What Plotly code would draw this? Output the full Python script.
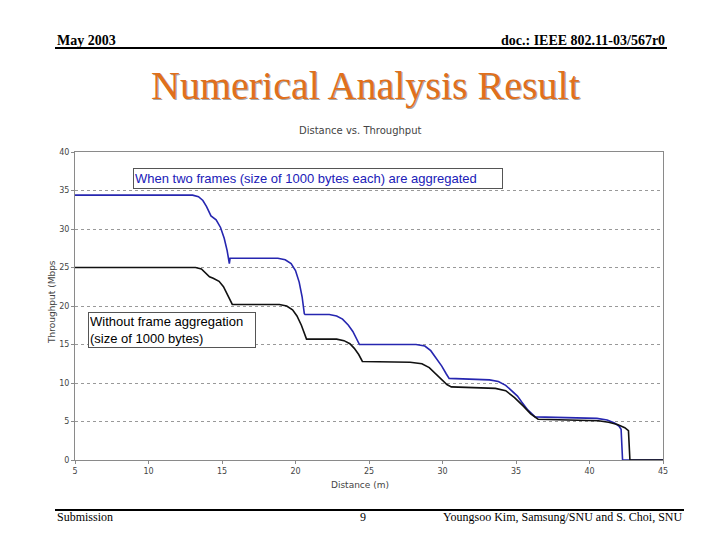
import plotly.graph_objects as go

# Data
agg_x = [5, 13.0, 13.4, 13.7, 13.95, 14.15, 14.25, 14.6, 14.9, 15.15, 15.35, 15.5, 15.55,
         18.8, 19.3, 19.7, 20.0, 20.25, 20.45, 20.6, 20.65,
         22.3, 22.8, 23.2, 23.6, 23.9, 24.2, 24.35,
         28.2, 28.8, 29.2, 29.6, 29.95, 30.25, 30.45,
         33.2, 33.8, 34.3, 34.8, 35.1, 35.4, 35.8, 36.3,
         39.5, 40.5, 41.2, 41.7, 42.0, 42.15, 42.25, 45]
agg_y = [34.4, 34.4, 34.2, 33.7, 32.9, 32.0, 31.7, 31.2, 30.2, 28.8, 27.2, 25.5, 26.2,
         26.2, 26.0, 25.5, 24.6, 23.1, 21.2, 19.0, 18.9,
         18.9, 18.7, 18.3, 17.5, 16.7, 15.6, 15.0,
         15.0, 14.8, 14.2, 13.2, 12.2, 11.2, 10.6,
         10.4, 10.2, 9.7, 8.8, 8.3, 7.5, 6.5, 5.6,
         5.5, 5.4, 5.2, 4.8, 4.4, 4.0, 0, 0]

noagg_x = [5, 13.2, 13.6, 13.9, 14.15, 14.4, 14.8, 15.1, 15.35, 15.55, 15.7,
           18.9, 19.4, 19.8, 20.1, 20.4, 20.6, 20.75,
           22.8, 23.3, 23.7, 24.0, 24.3, 24.55,
           27.8, 28.6, 29.1, 29.5, 29.9, 30.3, 30.6,
           33.6, 34.3, 34.9, 35.5, 36.0, 36.5,
           39.5, 40.6, 41.3, 41.9, 42.4, 42.65, 42.75, 45]
noagg_y = [25.0, 25.0, 24.8, 24.3, 23.8, 23.6, 23.2, 22.5, 21.5, 20.6, 20.2,
           20.2, 20.0, 19.5, 18.7, 17.5, 16.4, 15.7,
           15.7, 15.5, 15.1, 14.5, 13.7, 12.8,
           12.7, 12.5, 12.0, 11.3, 10.5, 9.8, 9.5,
           9.3, 9.0, 8.1, 7.0, 6.0, 5.3,
           5.2, 5.1, 4.9, 4.6, 4.2, 3.8, 0, 0]

x_ticks = [5, 10, 15, 20, 25, 30, 35, 40, 45]
y_ticks = [0, 5, 10, 15, 20, 25, 30, 35, 40]

# page pixel layout (plot area: x 75..663, y 152..460); page body has an 8px margin
OFF = 8
L, R, T, B = 75, 663, 152, 460
def px(x):
    return (x - L) / (R - L)
def py(y):
    return (B - y) / (B - T)

fig = go.Figure()
fig.add_trace(go.Scatter(x=agg_x, y=agg_y, mode="lines",
                         line=dict(color="#2626b0", width=1.6), showlegend=False))
fig.add_trace(go.Scatter(x=noagg_x, y=noagg_y, mode="lines",
                         line=dict(color="#111111", width=1.6), showlegend=False))

tickfont = dict(family="DejaVu Sans", size=8, color="#444444")
fig.update_xaxes(range=[5, 45], tickvals=x_ticks, ticktext=[str(v) for v in x_ticks],
                 showgrid=False, zeroline=False, showline=True, mirror=True,
                 linecolor="#8a8a8a", linewidth=1, ticks="outside", ticklen=3,
                 tickcolor="#8a8a8a", tickfont=tickfont)
fig.update_yaxes(range=[0, 40], tickvals=y_ticks, ticktext=[str(v) for v in y_ticks],
                 showgrid=True, gridcolor="#999999", griddash="dot", gridwidth=1,
                 zeroline=False, showline=True, mirror=True,
                 linecolor="#8a8a8a", linewidth=1, ticks="outside", ticklen=3,
                 tickcolor="#8a8a8a", tickfont=tickfont)

serif = "Liberation Serif"
ann = []
# slide header / footer
ann.append(dict(text="<b>May 2003</b>", x=px(55), y=py(40), xanchor="left", yanchor="middle",
                showarrow=False, font=dict(family=serif, size=14, color="black"),
                xref="paper", yref="paper"))
ann.append(dict(text="<b>doc.: IEEE 802.11-03/567r0</b>", x=px(667), y=py(40), xanchor="right",
                yanchor="middle", showarrow=False,
                font=dict(family=serif, size=14, color="black"),
                xref="paper", yref="paper"))
ann.append(dict(text="Numerical Analysis Result", x=px(365), y=py(85), xanchor="center",
                yanchor="middle", showarrow=False,
                font=dict(family=serif, size=40, color="#e0701c",
                          shadow="1px 1px 0px #a8a8a8"),
                xref="paper", yref="paper"))
ann.append(dict(text="Submission", x=px(55), y=py(517), xanchor="left", yanchor="middle",
                showarrow=False, font=dict(family=serif, size=12, color="black"),
                xref="paper", yref="paper"))
ann.append(dict(text="9", x=px(363), y=py(517), xanchor="center", yanchor="middle",
                showarrow=False, font=dict(family=serif, size=12, color="black"),
                xref="paper", yref="paper"))
ann.append(dict(text="Youngsoo Kim, Samsung/SNU and S. Choi, SNU", x=px(684), y=py(517),
                xanchor="right", yanchor="middle", showarrow=False,
                font=dict(family=serif, size=12, color="black"),
                xref="paper", yref="paper"))
# chart texts
ann.append(dict(text="Distance vs. Throughput", x=px(360), y=py(130), xanchor="center",
                yanchor="middle", showarrow=False,
                font=dict(family="DejaVu Sans", size=10, color="#444444"),
                xref="paper", yref="paper"))
ann.append(dict(text="Distance (m)", x=px(360), y=py(485), xanchor="center",
                yanchor="middle", showarrow=False,
                font=dict(family="DejaVu Sans", size=9, color="#444444"),
                xref="paper", yref="paper"))
ann.append(dict(text="Throughput (Mbps", x=px(52), y=py(302), xanchor="center",
                yanchor="middle", showarrow=False, textangle=-90,
                font=dict(family="DejaVu Sans", size=9, color="#444444"),
                xref="paper", yref="paper"))
# text boxes
ann.append(dict(text="When two frames (size of 1000 bytes each) are aggregated",
                x=px(133), y=py(168), xanchor="left", yanchor="top", showarrow=False,
                align="left", width=366, height=17, borderpad=1,
                bordercolor="#555555", borderwidth=1, bgcolor="white",
                font=dict(family="Liberation Sans", size=13, color="#2020b8"),
                xref="paper", yref="paper"))
ann.append(dict(text="Without frame aggregation<br>(size of 1000 bytes)",
                x=px(88), y=py(312), xanchor="left", yanchor="top", showarrow=False,
                align="left", width=164, height=32, borderpad=1,
                bordercolor="#555555", borderwidth=1, bgcolor="white",
                font=dict(family="Liberation Sans", size=13, color="black"),
                xref="paper", yref="paper"))

shapes = [
    dict(type="line", xref="paper", yref="paper", x0=px(55), x1=px(667), y0=py(48), y1=py(48),
         line=dict(color="black", width=2)),
    dict(type="line", xref="paper", yref="paper", x0=px(55), x1=px(684), y0=py(510), y1=py(510),
         line=dict(color="black", width=2)),
]

fig.update_layout(width=720, height=540,
                  margin=dict(l=L - OFF, r=720 - (R - OFF), t=T - OFF, b=540 - (B - OFF)),
                  paper_bgcolor="white", plot_bgcolor="white",
                  showlegend=False, annotations=ann, shapes=shapes)

fig.write_html("out.html")
